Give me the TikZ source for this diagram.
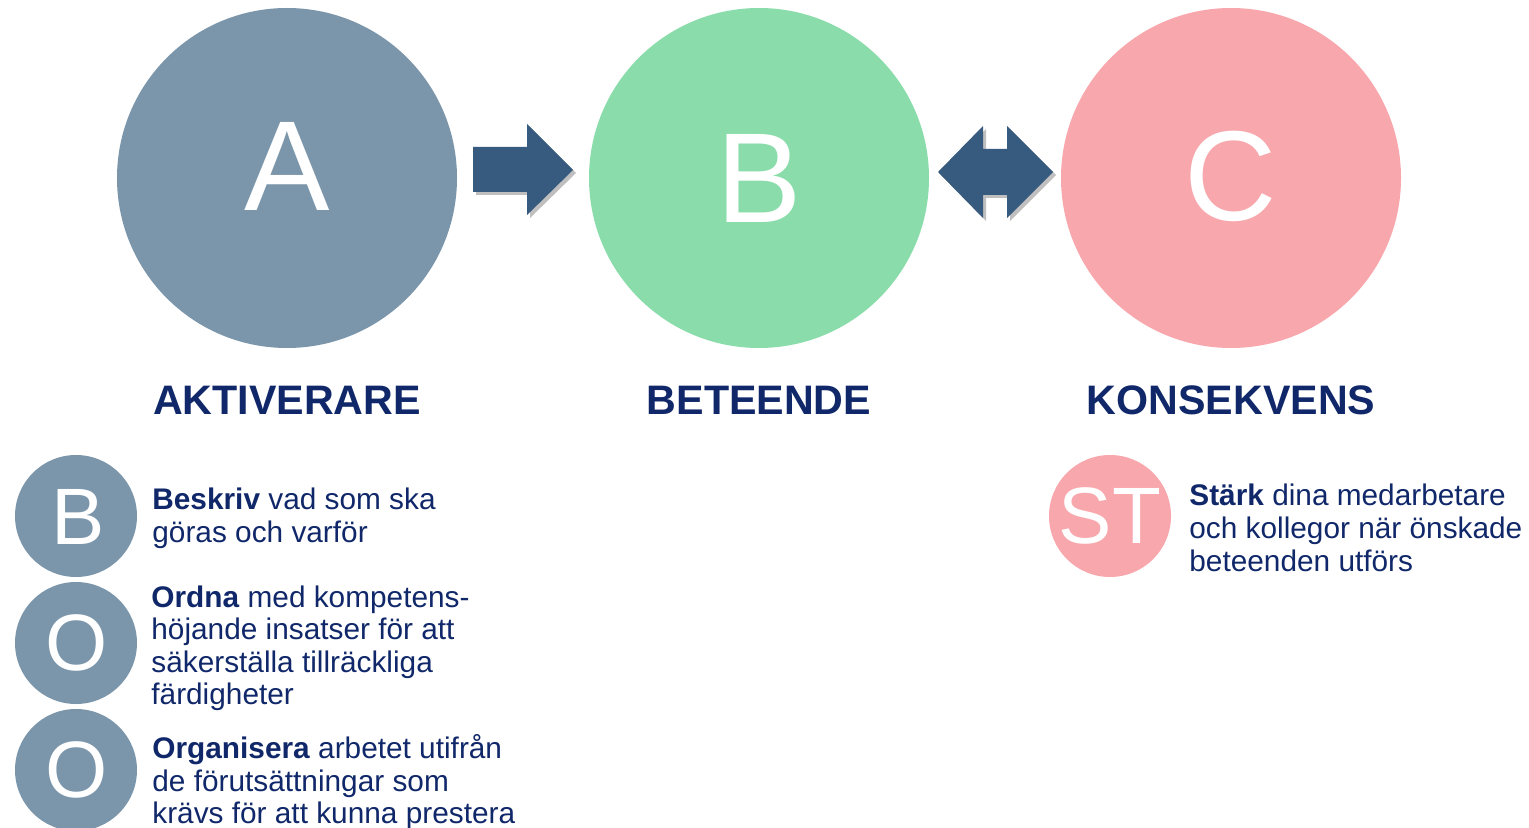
\documentclass[tikz,border=0pt]{standalone}
\usepackage{fontspec}
\setmainfont{Liberation Sans}
\definecolor{cA}{HTML}{7B96AB}
\definecolor{cB}{HTML}{8ADDAA}
\definecolor{cC}{HTML}{F8A7AC}
\definecolor{arrowc}{HTML}{365B7E}
\definecolor{navy}{HTML}{10286A}
\tikzset{
  bigc/.style={circle, inner sep=0, minimum size=170pt},
  smallc/.style={circle, inner sep=0, minimum size=61pt, fill=cA},
  bigletter/.style={text=white, inner sep=0, font=\fontsize{64}{64}\selectfont},
  smallletter/.style={text=white, inner sep=0, font=\fontsize{40}{40}\selectfont},
  lab/.style={text=navy, inner sep=0, anchor=base, font=\bfseries\fontsize{20.6}{24}\selectfont},
  desc/.style={text=navy, inner sep=0, anchor=north west, align=left, font=\fontsize{14.9}{16.3}\selectfont},
  blockarrow/.style={fill=arrowc},
  arrowshadow/.style={fill=black, opacity=0.25}
}
\begin{document}
\begin{tikzpicture}[x=0.5pt,y=-0.5pt]
\useasboundingbox (0,0) rectangle (1529,828);

% big circles
\node[bigc, fill=cA] (A) at (287,178) {};
\node[bigc, fill=cB] (B) at (759,178) {};
\node[bigc, fill=cC] (C) at (1231,178) {};
\node[bigletter] (lA) at (287,166.5) {A};
\node[bigletter] (lB) at (759,178) {B};
\node[bigletter] (lC) at (1231,176) {C};

% right block arrow
\foreach \dx/\dy/\st in {3/3/arrowshadow, 0/0/blockarrow}{
  \fill[\st, shift={(\dx*0.5pt,-\dy*0.5pt)}]
    (473,147) -- (527,147) -- (527,124) -- (573,170) -- (527,215) -- (527,192) -- (473,192) -- cycle;
}
% double block arrow
\foreach \dx/\dy/\st in {3/3/arrowshadow, 0/0/blockarrow}{
  \fill[\st, shift={(\dx*0.5pt,-\dy*0.5pt)}]
    (938,172) -- (983,126) -- (983,149) -- (1007,149) -- (1007,126) -- (1053,172)
    -- (1007,218) -- (1007,195) -- (983,195) -- (983,218) -- cycle;
}

% labels
\node[lab] (tA) at (287,414) {AKTIVERARE};
\node[lab] (tB) at (759,414) {BETEENDE};
\node[lab] (tC) at (1231,414) {KONSEKVENS};

% small circles
\node[smallc] (s1) at (76,516) {};
\node[smallc] (s2) at (76,643) {};
\node[smallc] (s3) at (76,770) {};
\node[smallc, fill=cC] (s4) at (1110,516) {};
\node[smallletter] (l1) at (78,517) {B};
\node[smallletter] (l2) at (77,643) {O};
\node[smallletter] (l3) at (77,770) {O};
\node[smallletter] (l4) at (1110,516) {ST};

% descriptions
\node[desc] (d1) at (152,488) {\textbf{Beskriv} vad som ska\\göras och varför};
\node[desc] (d2) at (151,585) {\textbf{Ordna} med kompetens-\\höjande insatser för att\\säkerställa tillräckliga\\färdigheter};
\node[desc] (d3) at (152,734) {\textbf{Organisera} arbetet utifrån\\de förutsättningar som\\krävs för att kunna prestera};
\node[desc] (d4) at (1189,484) {\textbf{Stärk} dina medarbetare\\och kollegor när önskade\\beteenden utförs};
\end{tikzpicture}
\end{document}
